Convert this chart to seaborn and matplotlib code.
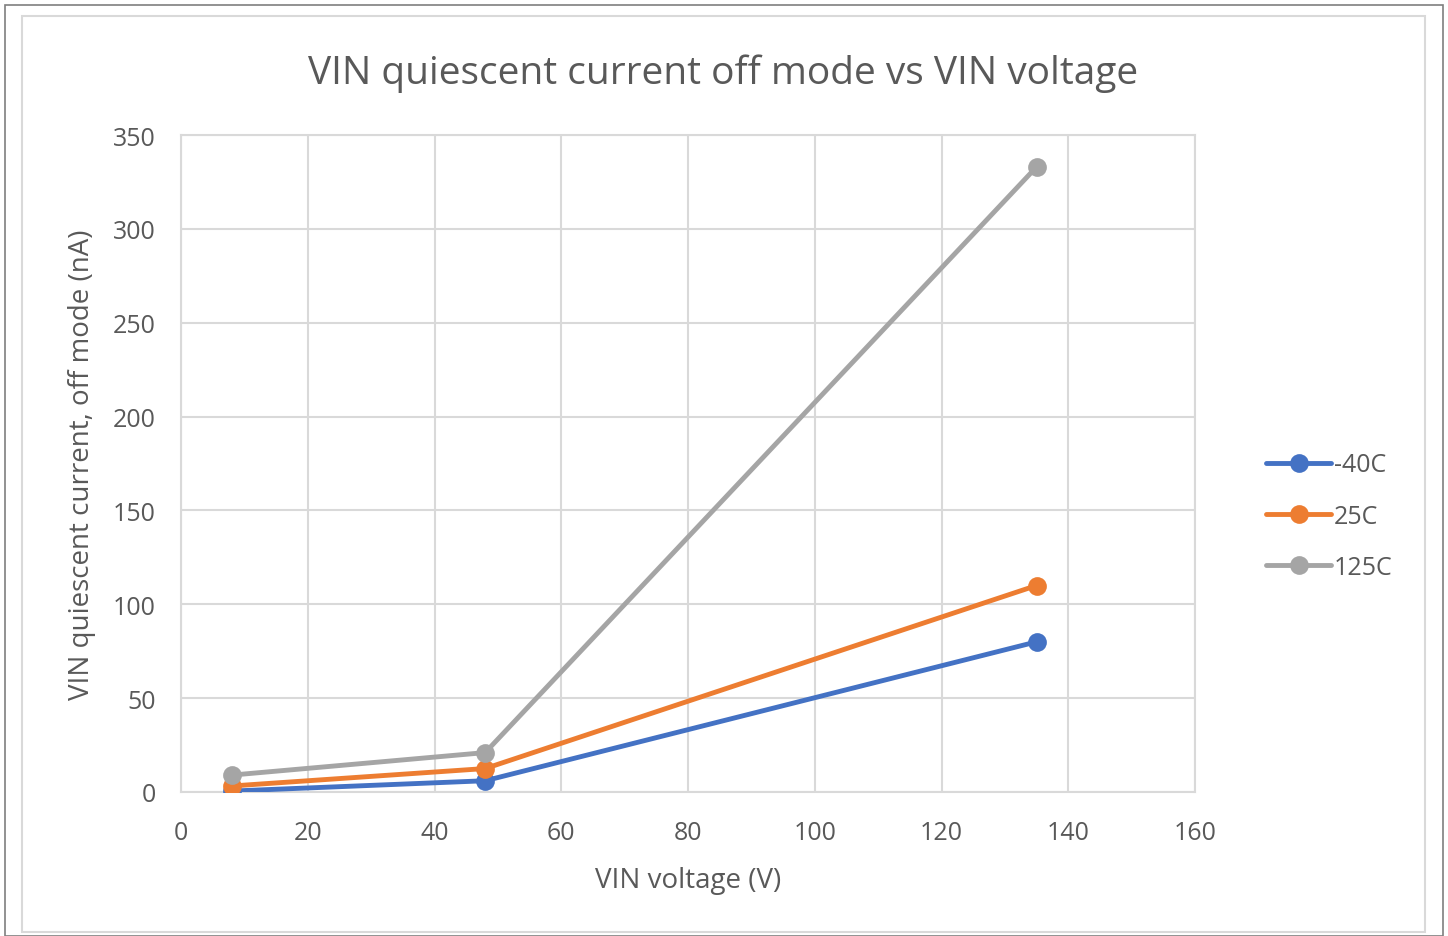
import pandas as pd
import seaborn as sns
import matplotlib.pyplot as plt
from matplotlib.patches import Rectangle

# data
vin_voltage = [8, 48, 135]
iq_m40c = [0.5, 6, 80]
iq_25c = [3.2, 12.5, 110]
iq_125c = [9, 21, 333]
series_names = ["-40C", "25C", "125C"]
colors = ["#4472C4", "#ED7D31", "#A5A5A5"]

rows = []
for name, vals in zip(series_names, [iq_m40c, iq_25c, iq_125c]):
    for v, i in zip(vin_voltage, vals):
        rows.append({"VIN voltage (V)": v, "Iq": i, "series": name})
df = pd.DataFrame(rows)

sns.set_style("white")
plt.rcParams["font.family"] = ["Open Sans", "DejaVu Sans"]
text_color = "#595959"
grid_color = "#D9D9D9"

fig = plt.figure(figsize=(14.48, 9.37), dpi=100)
fig.patch.set_facecolor("white")

# outer frame and chart area border
fig.patches.append(Rectangle((5 / 1448, 0), 1438 / 1448, 1 - 6 / 937, transform=fig.transFigure,
                             fill=False, edgecolor="#7F7F7F", linewidth=1.2))
fig.patches.append(Rectangle((22 / 1448, 1 - 933 / 937), 1403 / 1448, 916 / 937, transform=fig.transFigure,
                             fill=False, edgecolor="#D9D9D9", linewidth=1.5))

ax = fig.add_axes([181 / 1448, 1 - 793 / 937, 1014 / 1448, 657 / 937])
sns.lineplot(data=df, x="VIN voltage (V)", y="Iq", hue="series", palette=colors,
             marker="o", markersize=13.5, markeredgewidth=0, linewidth=3.5,
             ax=ax, legend=True, zorder=3)

ax.set_xlim(0, 160)
ax.set_ylim(0, 350)
ax.set_xticks(range(0, 161, 20))
ax.set_yticks(range(0, 351, 50))
ax.grid(True, color=grid_color, linewidth=1.5)
ax.set_axisbelow(True)
for s in ax.spines.values():
    s.set_color(grid_color)
    s.set_linewidth(1.5)
ax.tick_params(axis="both", length=0, labelsize=18, labelcolor=text_color)
ax.tick_params(axis="x", pad=20)
ax.tick_params(axis="y", pad=18)

ax.set_xlabel("VIN voltage (V)", fontsize=20, color=text_color, labelpad=15)
ax.set_ylabel("VIN quiescent current, off mode (nA)", fontsize=20, color=text_color, labelpad=12)
fig.text(723 / 1448, 1 - 74 / 937, "VIN quiescent current off mode vs VIN voltage",
         ha="center", va="center", fontsize=28, color=text_color)

leg = ax.legend(loc="center left", bbox_to_anchor=(1.048, 0.42), frameon=False,
                fontsize=18, labelcolor=text_color, handlelength=2.6,
                handletextpad=0.1, labelspacing=1.05)

fig.savefig("out.png", dpi=100)
